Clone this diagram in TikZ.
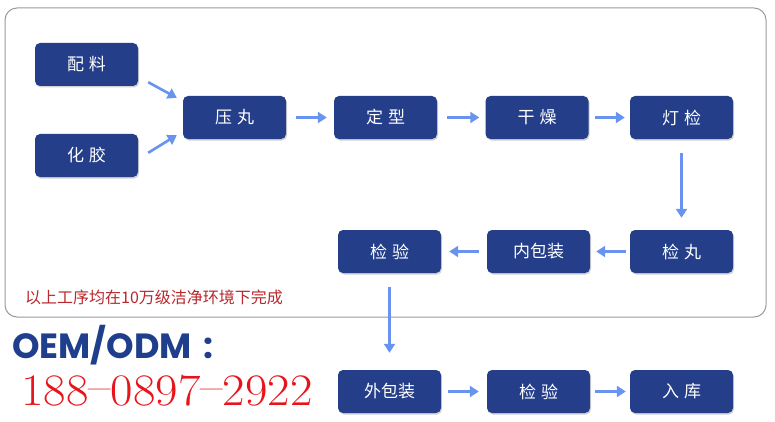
\documentclass[tikz,border=0pt]{standalone}
\usepackage{graphicx}
\usepackage{fontspec}
\newfontfamily\cjk{Noto Sans CJK SC}
\newfontfamily\oemfont{Poppins}
\usetikzlibrary{positioning,arrows.meta,shadows}
\definecolor{pnavy}{RGB}{36,62,138}
\definecolor{pblue}{RGB}{104,148,240}
\definecolor{pframe}{RGB}{155,155,155}
\definecolor{pnote}{RGB}{185,40,44}
\definecolor{pphone}{RGB}{232,20,28}
\definecolor{poem}{RGB}{31,63,140}
\tikzset{
  proc/.style={fill=pnavy, text=white, rounded corners=5pt,
               minimum width=103pt, minimum height=43pt, inner sep=0pt,
               font=\cjk\fontsize{17}{17}\selectfont,
               drop shadow={opacity=0.35, shadow xshift=1pt, shadow yshift=-1.5pt}},
  flow/.style={-{Triangle[length=9pt,width=11pt]}, line width=2.6pt, color=pblue,
               shorten <=6pt, shorten >=5pt},
  down/.style={flow, shorten <=14pt, shorten >=12pt},
}
\begin{document}
\begin{tikzpicture}[x=1pt,y=1pt]
\useasboundingbox (0,0) rectangle (775,421);
\fill[white] (0,0) rectangle (775,421);
\draw[pframe, line width=1pt, rounded corners=12pt] (5,413) rectangle (766,104);
% first row
\node[proc] (pl) at (86.5,356.5) {配\hspace{5pt}料};
\node[proc] (hj) at (86.5,265.5) {化\hspace{5pt}胶};
\node[proc] (yw) at (234.5,303.5) {压\hspace{5pt}丸};
\node[proc] (dx) at (385.5,303.5) {定\hspace{5pt}型};
\node[proc] (gz) at (537,303.5) {干\hspace{5pt}燥};
\node[proc] (dj) at (681.5,303.5) {灯\hspace{5pt}检};
% second row
\node[proc] (jw) at (681.5,169.5) {检\hspace{5pt}丸};
\node[proc] (nbz) at (538.5,169.5) {内包装};
\node[proc] (jy) at (389.5,169.5) {检\hspace{5pt}验};
% outside the frame
\node[proc] (wbz) at (389.5,29.5) {外包装};
\node[proc] (jy2) at (538.5,29.5) {检\hspace{5pt}验};
\node[proc] (rk) at (681.5,29.5) {入\hspace{5pt}库};
\draw[flow, shorten <=0pt, shorten >=0pt] ([shift={(10,4)}]pl.south east) -- ([shift={(-6,-2)}]yw.north west);
\draw[flow, shorten <=0pt, shorten >=0pt] ([shift={(10,-19)}]hj.north east) -- ([shift={(-6,4)}]yw.south west);
\draw[flow, shorten <=10pt, shorten >=7pt] (yw) -- (dx);
\draw[flow, shorten <=10pt, shorten >=6pt] (dx) -- (gz);
\draw[flow] (gz) -- (dj);
\draw[down] (dj) -- (jw);
\draw[flow, shorten <=4pt, shorten >=6pt] (jw) -- (nbz);
\draw[flow, shorten <=8pt, shorten >=8pt] (nbz) -- (jy);
\draw[down, shorten >=17pt] (jy) -- (wbz);
\draw[flow, shorten <=7pt, shorten >=8pt] (wbz) -- (jy2);
\draw[flow, shorten <=5pt, shorten >=4pt] (jy2) -- (rk);
% texts
\node[anchor=west, inner sep=0pt, text=pnote, font=\cjk\fontsize{16}{16}\selectfont] (note) at (25,124) {以上工序均在10万级洁净环境下完成};
\node[anchor=base west, inner sep=0pt, text height=25pt, text depth=0pt, text=poem, font=\oemfont\bfseries\fontsize{35}{35}\selectfont] (oem) at (12,63) {OEM/ODM\hspace{12pt}:};
\node[anchor=base west, inner sep=0pt, text height=31pt, text depth=0pt, text=pphone, font=\fontsize{45}{45}\selectfont] (tel) at (21,16) {\scalebox{1.085}[1]{188\raisebox{4pt}{--}0897\raisebox{4pt}{--}2922}};
\end{tikzpicture}
\end{document}
